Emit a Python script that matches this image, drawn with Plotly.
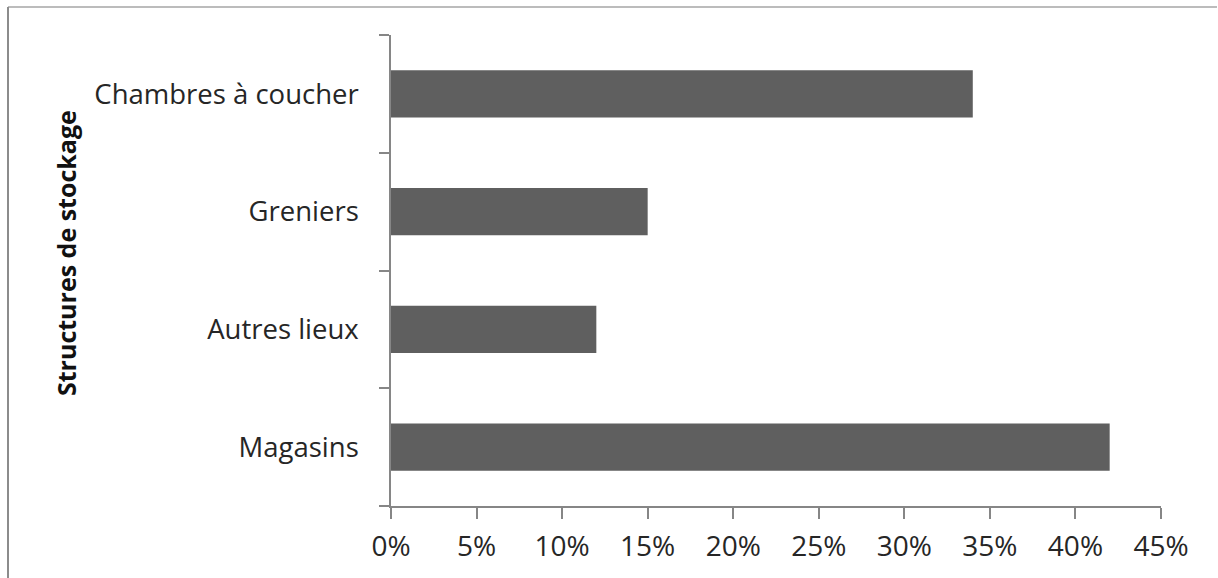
import plotly.graph_objects as go

categories = ["Magasins", "Autres lieux", "Greniers", "Chambres à coucher"]
values = [0.42, 0.12, 0.15, 0.34]
x_ticks = [0, 0.05, 0.10, 0.15, 0.20, 0.25, 0.30, 0.35, 0.40, 0.45]
x_tick_labels = ["0%", "5%", "10%", "15%", "20%", "25%", "30%", "35%", "40%", "45%"]
y_title = "Structures de stockage"

FONT = "Open Sans"
TXT = "#262626"
AX = "#868686"

L, R, T, B = 391, 57, 35, 72
W, H = 1218, 578
PW, PH = W - L - R, H - T - B

fig = go.Figure(go.Bar(
    x=values, y=categories, orientation="h",
    marker=dict(color="#5f5f5f", line=dict(width=0)),
    width=0.4,
))

fig.update_layout(
    width=W, height=H,
    margin=dict(l=L, r=R, t=T, b=B),
    paper_bgcolor="white", plot_bgcolor="white",
    showlegend=False,
    font=dict(family=FONT, color=TXT),
    xaxis=dict(
        range=[0, 0.45], tickvals=x_ticks, ticktext=x_tick_labels,
        showgrid=False, zeroline=False,
        showline=True, linecolor=AX, linewidth=1.5,
        ticks="outside", ticklen=11, tickcolor=AX, tickwidth=1.5,
        tickfont=dict(size=28, color=TXT, family=FONT),
        ticklabelstandoff=4,
    ),
    yaxis=dict(
        type="category", categoryorder="array", categoryarray=categories,
        showgrid=False, zeroline=False,
        showline=True, linecolor=AX, linewidth=1.5,
        ticks="outside", ticklen=10, tickcolor=AX, tickwidth=1.5,
        tickson="boundaries",
        tickfont=dict(size=27.5, color=TXT, family=FONT),
        ticklabelstandoff=25,
    ),
)

fig.add_annotation(
    text="<b>" + y_title + "</b>", textangle=-90,
    xref="paper", yref="paper",
    x=(66 - L) / PW, y=(H - B - 253) / PH,
    xanchor="center", yanchor="middle", showarrow=False,
    font=dict(size=25, color="#111111", family=FONT),
)

# thin outer frame of the chart area (top and left edges visible)
fig.add_shape(type="line", xref="paper", yref="paper",
              x0=(8 - L) / PW, x1=(1217 - L) / PW, y0=(H - 7 - B) / PH, y1=(H - 7 - B) / PH,
              line=dict(color="#a6a6a6", width=1.5))
fig.add_shape(type="line", xref="paper", yref="paper",
              x0=(8 - L) / PW, x1=(8 - L) / PW, y0=-B / PH, y1=(H - 7 - B) / PH,
              line=dict(color="#8c8c8c", width=2))

fig.write_html("out.html")
